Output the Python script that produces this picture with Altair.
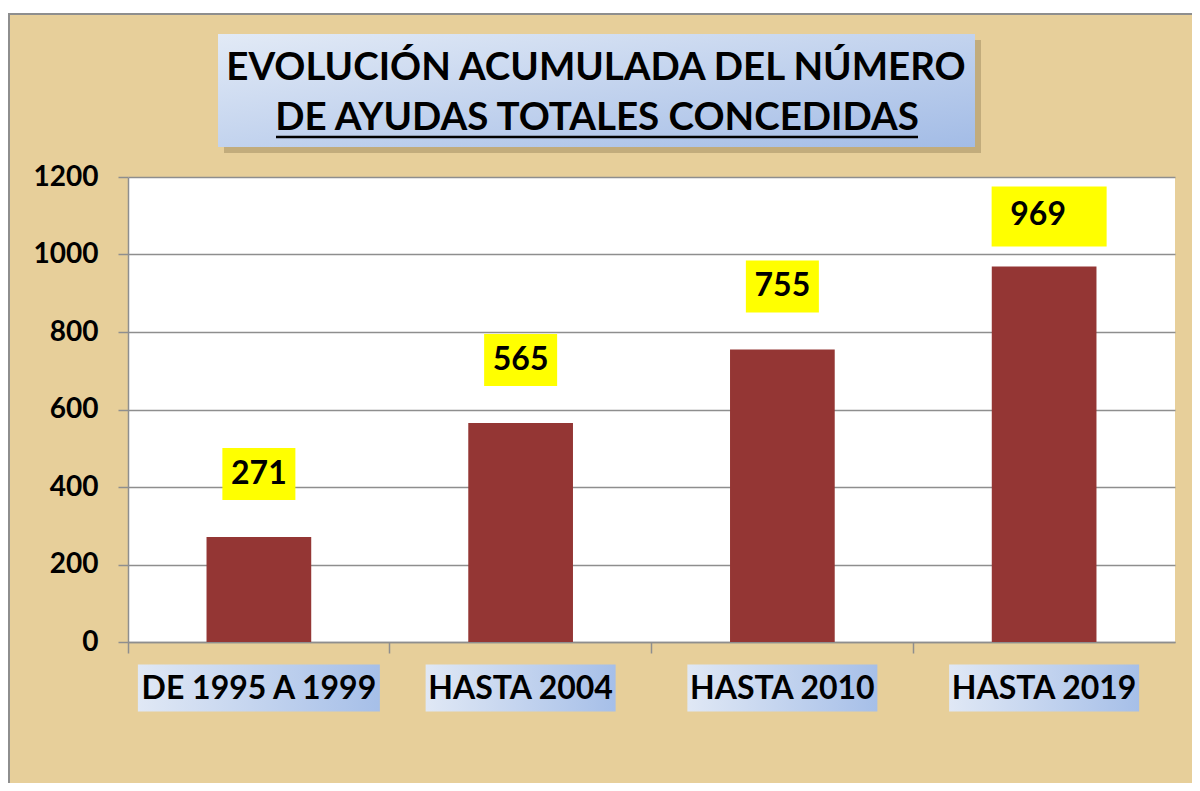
import altair as alt
import pandas as pd

categories = ["DE 1995 A 1999", "HASTA 2004", "HASTA 2010", "HASTA 2019"]
values = [271, 565, 755, 969]
y_ticks = [0, 200, 400, 600, 800, 1000, 1200]
title_lines = ["EVOLUCIÓN ACUMULADA DEL NÚMERO", "DE AYUDAS TOTALES CONCEDIDAS"]

df = pd.DataFrame({"cat": categories, "value": values})
one = pd.DataFrame({"k": [0]})

W, H = 1047, 465
FONT = "Lato"
GRAY = "#8e8e8e"
TAN = "#e7cf9a"

blue_grad = alt.LinearGradient(gradient="linear", x1=0, y1=0, x2=1, y2=1,
                               stops=[alt.GradientStop(color="#e2eaf6", offset=0),
                                      alt.GradientStop(color="#a3bce6", offset=1)])
blue_grad_h = alt.LinearGradient(gradient="linear", x1=0, y1=0, x2=1, y2=0,
                                 stops=[alt.GradientStop(color="#e0e8f5", offset=0),
                                        alt.GradientStop(color="#a6bfe8", offset=1)])

x_enc = alt.X("cat:N", sort=categories,
              scale=alt.Scale(paddingInner=0, paddingOuter=0),
              axis=alt.Axis(title=None, labels=False, bandPosition=0, tickSize=11,
                            tickColor=GRAY, tickWidth=1.5, domainColor=GRAY,
                            domainWidth=1.5, grid=False))
y_enc = alt.Y("value:Q", scale=alt.Scale(domain=[0, 1200], nice=False),
              axis=alt.Axis(title=None, values=y_ticks, format="d", tickSize=10,
                            tickColor=GRAY, tickWidth=1.5, domainColor=GRAY,
                            domainWidth=1.5, gridColor=GRAY, gridWidth=1.5,
                            labelFont=FONT, labelFontSize=28, labelFontWeight="bold",
                            labelColor="black", labelPadding=20))

base1 = alt.Chart(one)

frame_top = base1.mark_rule(color=GRAY, strokeWidth=2).encode(
    x=alt.value(-120), x2=alt.value(W + 60), y=alt.value(-163))
frame_left = base1.mark_rule(color=GRAY, strokeWidth=2).encode(
    x=alt.value(-119), y=alt.value(-164), y2=alt.value(H + 200))
top_strip = base1.mark_rect(fill="white").encode(
    x=alt.value(-130), x2=alt.value(W + 60), y=alt.value(-180), y2=alt.value(-164))

title_shadow = base1.mark_rect(fill="#7d6a45", opacity=0.35).encode(
    x=alt.value(96), x2=alt.value(853), y=alt.value(-137), y2=alt.value(-24))
title_box = base1.mark_rect(fill=blue_grad).encode(
    x=alt.value(90), x2=alt.value(847), y=alt.value(-143), y2=alt.value(-30))
title1 = base1.mark_text(font=FONT, fontSize=38.5, fontWeight="bold", color="black",
                         align="center", baseline="alphabetic").encode(
    x=alt.value(468), y=alt.value(-97), text=alt.value(title_lines[0]))
title2 = base1.mark_text(font=FONT, fontSize=38.5, fontWeight="bold", color="black",
                         align="center", baseline="alphabetic").encode(
    x=alt.value(469), y=alt.value(-47), text=alt.value(title_lines[1]))
underline = base1.mark_rule(color="black", strokeWidth=2.5).encode(
    x=alt.value(148), x2=alt.value(790), y=alt.value(-40))

base = alt.Chart(df)
bars = base.mark_bar(color="#943634", width=alt.RelativeBandSize(0.4)).encode(
    x=x_enc, y=y_enc)

small = base.transform_filter(alt.datum.cat != categories[-1])
big = base.transform_filter(alt.datum.cat == categories[-1])

lbl_box = small.mark_point(filled=True, fill="#ffff00", opacity=1, strokeWidth=0,
                           shape="M-1,-0.7123H1V0.7123H-1Z", size=5329,
                           yOffset=-63).encode(x="cat:N", y="value:Q")
lbl_txt = small.mark_text(font=FONT, fontSize=32, fontWeight="bold", color="black",
                          baseline="middle", align="center", yOffset=-63).encode(
    x="cat:N", y="value:Q", text="value:Q")
lbl_box_big = big.mark_point(filled=True, fill="#ffff00", opacity=1, strokeWidth=0,
                             shape="M-1,-0.5217H1V0.5217H-1Z", size=13225,
                             xOffset=5, yOffset=-50).encode(x="cat:N", y="value:Q")
lbl_txt_big = big.mark_text(font=FONT, fontSize=32, fontWeight="bold", color="black",
                            baseline="middle", align="center", xOffset=-6,
                            yOffset=-52).encode(x="cat:N", y="value:Q", text="value:Q")

xbox1 = base.transform_filter(alt.datum.cat == categories[0]).mark_point(
    filled=True, fill=blue_grad_h, opacity=1, strokeWidth=0,
    shape="M-1,-0.1942H1V0.1942H-1Z", size=58564).encode(
    x="cat:N", y=alt.value(H + 46))
xbox2 = base.transform_filter(alt.datum.cat != categories[0]).mark_point(
    filled=True, fill=blue_grad_h, opacity=1, strokeWidth=0,
    shape="M-1,-0.2474H1V0.2474H-1Z", size=36100).encode(
    x="cat:N", y=alt.value(H + 46))
xtxt = base.mark_text(font=FONT, fontSize=32, fontWeight="bold", color="black",
                      baseline="middle", align="center").encode(
    x="cat:N", y=alt.value(H + 47), text="cat:N")

chart = alt.layer(
    frame_top, frame_left, top_strip, title_shadow, title_box, title1, title2,
    underline, bars, lbl_box, lbl_txt, lbl_box_big, lbl_txt_big, xbox1, xbox2, xtxt
).properties(
    width=W, height=H,
    autosize=alt.AutoSizeParams(type="none"),
    padding={"left": 120, "top": 169, "right": 17, "bottom": 141},
    background=TAN,
).configure_view(fill="white", stroke=None)

chart.save("out.html", embed_options={"renderer": "svg", "actions": False})
